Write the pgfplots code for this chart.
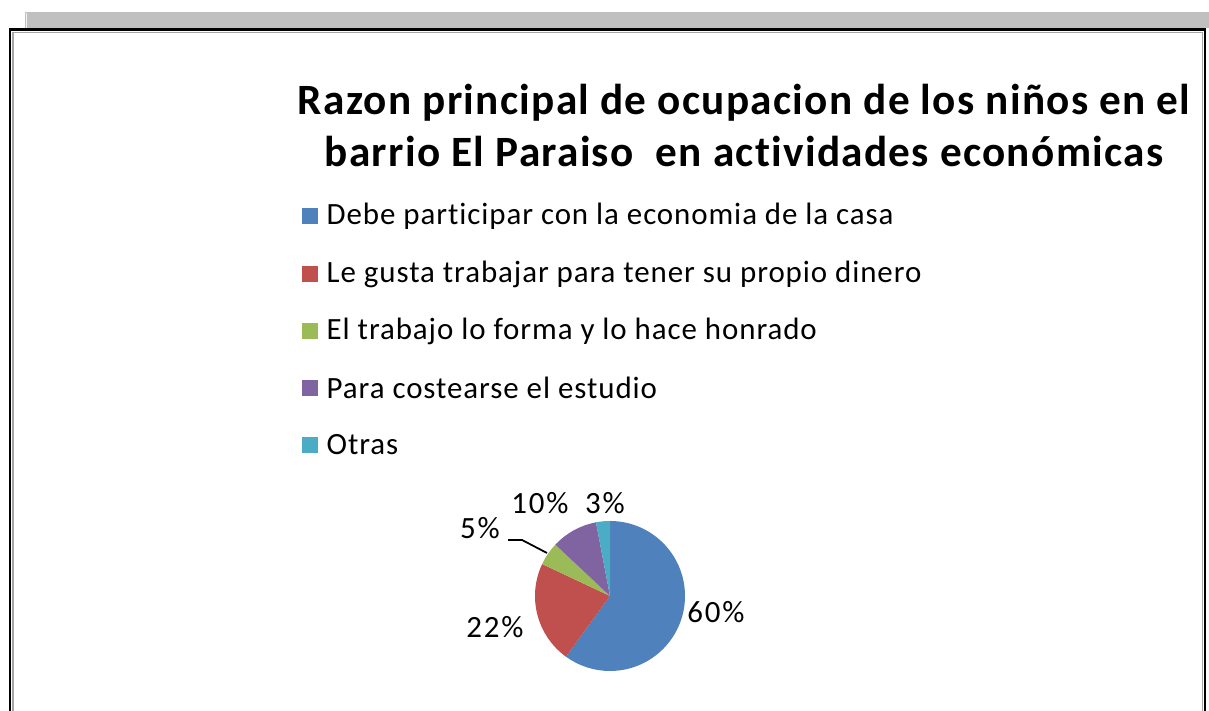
\documentclass[border=0pt]{standalone}
\usepackage{fontspec}
\setmainfont{Carlito}[Ligatures=NoCommon]
\newfontfamily\titlefont{Carlito}[Ligatures=NoCommon, LetterSpace=3]
\newfontfamily\legfont{Carlito}[Ligatures=NoCommon, LetterSpace=3]
\newfontfamily\labfont{Carlito}[Ligatures=NoCommon, LetterSpace=6]
\usepackage{pgfplots}
\pgfplotsset{compat=1.18}

\definecolor{cA}{HTML}{4F81BD}
\definecolor{cB}{HTML}{C0504D}
\definecolor{cC}{HTML}{9BBB59}
\definecolor{cD}{HTML}{8064A2}
\definecolor{cE}{HTML}{4BACC6}
\definecolor{bargray}{HTML}{C0C0C0}

% shares (percent)
\def\vA{60}\def\vB{22}\def\vC{5}\def\vD{10}\def\vE{3}
\pgfmathsetmacro\aA{90}
\pgfmathsetmacro\aB{\aA-3.6*\vA}
\pgfmathsetmacro\aC{\aB-3.6*\vB}
\pgfmathsetmacro\aD{\aC-3.6*\vC}
\pgfmathsetmacro\aE{\aD-3.6*\vD}
\pgfmathsetmacro\aF{\aE-3.6*\vE}

\begin{document}
\begin{tikzpicture}
\begin{axis}[
  width=12.09cm, height=7.11cm, scale only axis,
  xmin=0, xmax=1209, ymin=0, ymax=711,
  hide axis, clip=false,
]
% window bar and frame
\fill[bargray] (axis cs:25,683) rectangle (axis cs:1209,699);
\draw[white!90!gray, line width=0.4pt] (axis cs:26.5,683) -- (axis cs:26.5,698);
\draw[black, line width=0.6pt] (axis cs:10,0) -- (axis cs:10,681.5) -- (axis cs:1205,681.5) -- (axis cs:1205,0);
\draw[gray!70, line width=0.4pt] (axis cs:13,0) -- (axis cs:13,678.5) -- (axis cs:1202.5,678.5) -- (axis cs:1202.5,0);

% title
\node[font=\titlefont\fontsize{12.3}{14.8}\selectfont\bfseries, align=center] at (axis cs:744,585)
  {Razon principal de ocupacion de los niños en el\\barrio El Paraiso\ \ en actividades económicas};

% legend
\foreach \y/\c/\t in {
  495/cA/Debe participar con la economia de la casa,
  437/cB/Le gusta trabajar para tener su propio dinero,
  380/cC/El trabajo lo forma y lo hace honrado,
  323/cD/Para costearse el estudio,
  266/cE/Otras}{
  \edef\tmp{\noexpand\fill[\c] (axis cs:302,\y-8) rectangle (axis cs:318,\y+8);
    \noexpand\node[anchor=west, inner sep=0pt, font=\noexpand\legfont\noexpand\fontsize{8.8}{10}\noexpand\selectfont] at (axis cs:326,\y) {\t};}
  \tmp
}

% pie slices
\fill[cA] (axis cs:610,115) -- ++(\aA:0.75cm) arc[start angle=\aA, end angle=\aB, radius=0.75cm] -- cycle;
\fill[cB] (axis cs:610,115) -- ++(\aB:0.75cm) arc[start angle=\aB, end angle=\aC, radius=0.75cm] -- cycle;
\fill[cC] (axis cs:610,115) -- ++(\aC:0.75cm) arc[start angle=\aC, end angle=\aD, radius=0.75cm] -- cycle;
\fill[cD] (axis cs:610,115) -- ++(\aD:0.75cm) arc[start angle=\aD, end angle=\aE, radius=0.75cm] -- cycle;
\fill[cE] (axis cs:610,115) -- ++(\aE:0.75cm) arc[start angle=\aE, end angle=\aF, radius=0.75cm] -- cycle;

% leader line for 5%
\addplot[black, line width=0.5pt] coordinates {(508,171) (522,171) (547,158)};

% data labels
\begin{scope}[font=\labfont\fontsize{8.8}{10}\selectfont]
\node at (axis cs:716,99) {60\%};
\node at (axis cs:495,84) {22\%};
\node at (axis cs:480,183) {5\%};
\node at (axis cs:540,208) {10\%};
\node at (axis cs:605,208) {3\%};
\end{scope}
\end{axis}
\pgfresetboundingbox
\path (0,0) rectangle (12.09cm,7.11cm);
\end{tikzpicture}
\end{document}
